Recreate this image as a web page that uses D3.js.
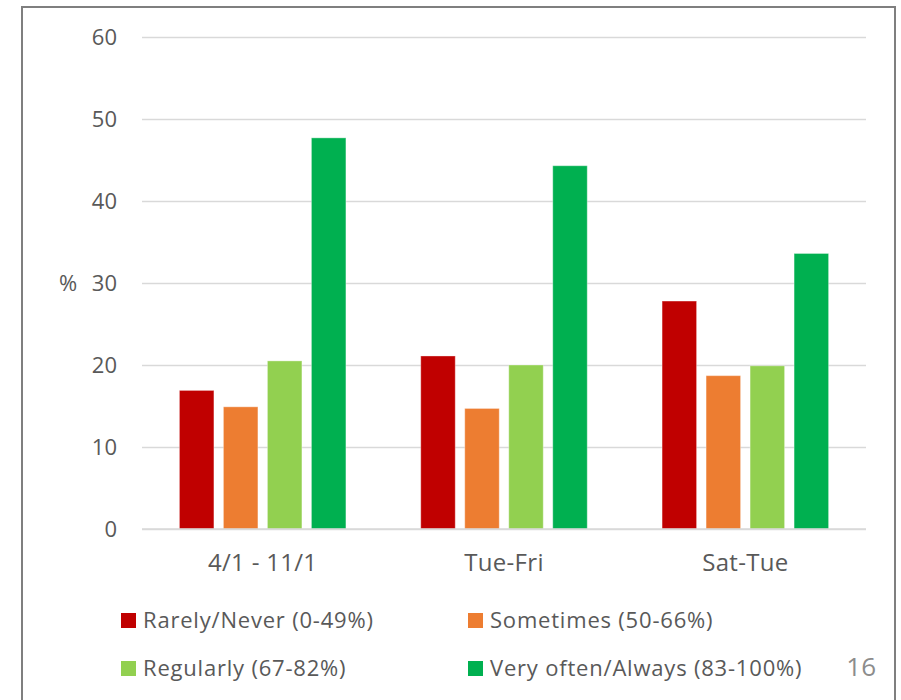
<!DOCTYPE html>
<html>
<head>
<meta charset="utf-8">
<script src="https://cdn.jsdelivr.net/npm/d3@7"></script>
<style>
  html, body { margin: 0; padding: 0; background: #fff; }
  svg { display: block; }
  text { font-family: "Open Sans", sans-serif; }
</style>
</head>
<body>
<svg id="chart" width="901" height="700"></svg>
<script>
// Response frequency by period (% of respondents)
const categories = ["4/1 - 11/1", "Tue-Fri", "Sat-Tue"];
const seriesNames = [
  "Rarely/Never (0-49%)",
  "Sometimes (50-66%)",
  "Regularly (67-82%)",
  "Very often/Always (83-100%)"
];
const rarelyNever = [16.9, 21.1, 27.8];
const sometimes   = [14.9, 14.7, 18.7];
const regularly   = [20.5, 20.0, 19.9];
const veryOften   = [47.7, 44.3, 33.6];
const yTicks = [0, 10, 20, 30, 40, 50, 60];
const colors = ["#C00000", "#ED7D31", "#92D050", "#00B050"];
const pageNumber = "16";

const series = [rarelyNever, sometimes, regularly, veryOften];

const svg = d3.select("#chart");

// frame
svg.append("rect")
  .attr("x", 22).attr("y", 7)
  .attr("width", 873).attr("height", 720)
  .attr("fill", "none")
  .attr("stroke", "#7f7f7f")
  .attr("stroke-width", 2);

const plot = { left: 142, right: 866, top: 37, bottom: 529 };

const y = d3.scaleLinear().domain([0, 60]).range([plot.bottom, plot.top]);
const x0 = d3.scaleBand().domain(categories).range([plot.left, plot.right]).padding(0);
const x1 = d3.scaleBand().domain(d3.range(seriesNames.length))
  .range([-83.25, 83.25]).paddingInner(0.216).paddingOuter(0);

// gridlines
const yAxis = d3.axisLeft(y).tickValues(yTicks).tickSize(-(plot.right - plot.left)).tickPadding(25);
const gy = svg.append("g").attr("transform", `translate(${plot.left},0)`).call(yAxis);
gy.select(".domain").remove();
gy.selectAll(".tick line").attr("stroke", "#d9d9d9").attr("stroke-width", 1.5);
gy.selectAll(".tick text")
  .attr("fill", "#595959")
  .style("font-size", "22px")
  .attr("dy", "0.36em");

// bars
const groups = svg.append("g").selectAll("g")
  .data(categories)
  .join("g")
  .attr("transform", d => `translate(${x0(d) + x0.bandwidth() / 2},0)`);

groups.selectAll("rect")
  .data((d, i) => series.map((s, k) => ({ k, v: s[i] })))
  .join("rect")
  .attr("x", d => x1(d.k))
  .attr("width", x1.bandwidth())
  .attr("y", d => y(d.v))
  .attr("height", d => y(0) - y(d.v))
  .attr("fill", d => colors[d.k])
  .attr("stroke", "#ffffff")
  .attr("stroke-opacity", 0.35)
  .attr("stroke-width", 1);

// baseline drawn over bars
svg.append("line")
  .attr("x1", plot.left).attr("x2", plot.right)
  .attr("y1", y(0)).attr("y2", y(0))
  .attr("stroke", "#d9d9d9").attr("stroke-width", 1.5);

// category labels
const xAxis = d3.axisBottom(x0).tickSize(0).tickPadding(0);
const gx = svg.append("g").attr("transform", `translate(0,${plot.bottom + 25})`).call(xAxis);
gx.select(".domain").remove();
gx.selectAll(".tick text")
  .attr("fill", "#595959")
  .style("font-size", "24px")
  .style("letter-spacing", "0.3px")
  .attr("dy", "0.71em");

// axis title
svg.append("text")
  .attr("x", 68).attr("y", y(30))
  .attr("dy", "0.36em")
  .attr("text-anchor", "middle")
  .attr("fill", "#595959")
  .style("font-size", "22px")
  .text("%");

// legend
const legendPos = [
  { x: 121, y: 613 }, { x: 468, y: 613 },
  { x: 121, y: 661 }, { x: 468, y: 661 }
];
const legend = svg.append("g").selectAll("g")
  .data(seriesNames)
  .join("g")
  .attr("transform", (d, i) => `translate(${legendPos[i].x},${legendPos[i].y})`);
legend.append("rect")
  .attr("width", 15).attr("height", 15)
  .attr("fill", (d, i) => colors[i]);
legend.append("text")
  .attr("x", 22).attr("y", 7.5)
  .attr("dy", "0.36em")
  .attr("fill", "#595959")
  .style("font-size", "22px")
  .style("letter-spacing", "0.8px")
  .text(d => d);

// page number
svg.append("text")
  .attr("x", 876).attr("y", 667)
  .attr("dy", "0.36em")
  .attr("text-anchor", "end")
  .attr("fill", "#8c8c8c")
  .style("font-size", "26px")
  .text(pageNumber);
</script>
</body>
</html>
